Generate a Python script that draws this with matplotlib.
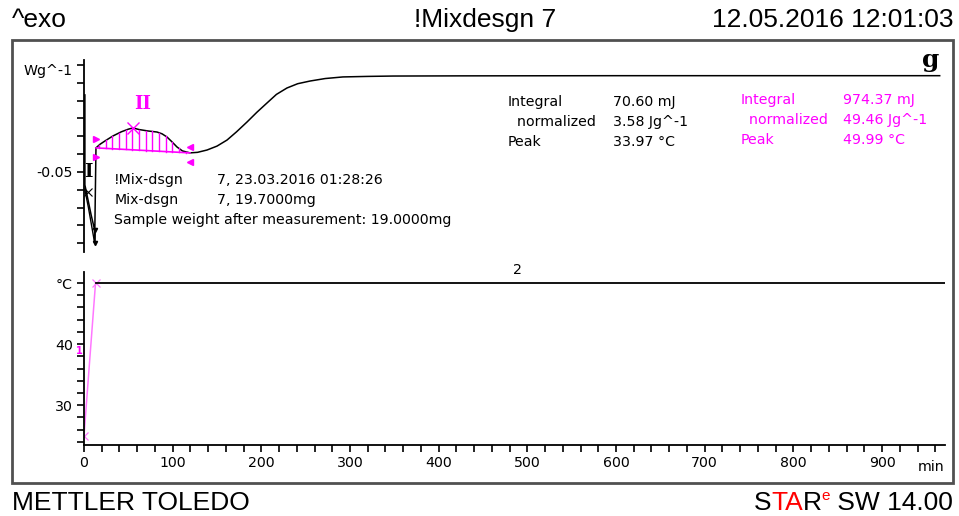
import numpy as np
import matplotlib
matplotlib.use('Agg')
import matplotlib.pyplot as plt
from matplotlib.patches import Rectangle

W, H = 959, 516

# DSC heat flow curve (min, Wg^-1)
dsc_t = [13.5, 18, 24, 32.7, 42, 50, 55.3, 62, 72, 82.3, 88, 93.6, 99, 104.9, 111, 119.5,
         128, 138.7, 150, 161.3, 172, 183.8, 195, 206.4, 217, 228.9, 241, 254.9, 272,
         292, 320, 348.5, 424, 600, 800, 965]
dsc_y = [-0.0365, -0.0345, -0.0325, -0.0298, -0.0275, -0.0260, -0.0253, -0.0262, -0.0270,
         -0.0276, -0.0286, -0.0304, -0.0330, -0.0360, -0.0382, -0.0393,
         -0.0390, -0.0377, -0.0355, -0.0321, -0.0275, -0.0220, -0.0165, -0.0113, -0.0065,
         -0.0029, -0.0005, 0.0010, 0.0024, 0.0033, 0.0036, 0.0038, 0.0039, 0.0040, 0.0040, 0.0040]

# initial transient (segment I)
start_t = [1, 1, 3, 8, 12, 12, 13.5]
start_y = [-0.0068, -0.0573, -0.0620, -0.0740, -0.0825, -0.0898, -0.0365]
start2_t = [1, 5, 12]
start2_y = [-0.0600, -0.0700, -0.0898]

# integration limits and peak (segment II)
int_t = [13.5, 119.5]
int_y = [-0.0365, -0.0393]
peak_t, peak_y = 55.3, -0.0253

# temperature program (min, degC)
temp_t = [0, 13]
temp_y = [25, 50]
iso_t = [13, 971]
iso_y = [50, 50]

res_left = ['Integral', '  normalized', 'Peak']
res1_vals = ['70.60 mJ', '3.58 Jg^-1', '33.97 °C']
res2_vals = ['974.37 mJ', '49.46 Jg^-1', '49.99 °C']

MAG = '#ff00ff'
PINK = '#ff77ff'
FONT = 'DejaVu Sans'
HEAD = 'Liberation Sans'
FS = 10.2


def px_rect(l, t, r, b):
    return [l / W, 1 - b / H, (r - l) / W, (b - t) / H]


fig = plt.figure(figsize=(W / 100, H / 100), dpi=100)

# marco exterior
fig.patches.append(Rectangle((12 / W, 1 - 483 / H), 941 / W, 443 / H, transform=fig.transFigure,
                             fill=False, edgecolor='#505050', linewidth=2))

# encabezado y pie
fig.text(12 / W, 1 - 20 / H, '^exo', fontsize=19, family=HEAD, va='center', ha='left')
fig.text(485 / W, 1 - 20 / H, '!Mixdesgn 7', fontsize=19, family=HEAD, va='center', ha='center')
fig.text(953 / W, 1 - 20 / H, '12.05.2016 12:01:03', fontsize=19, family=HEAD, va='center', ha='right')
fig.text(12 / W, 1 - 503 / H, 'METTLER TOLEDO', fontsize=19, family=HEAD, va='center', ha='left')

# STARe SW 14.00 armado por partes
renderer = fig.canvas.get_renderer()
parts = [('S', 'black', 19, 0), ('TA', 'red', 19, 0), ('R', 'black', 19, 0),
         ('e', 'red', 11, 7), (' SW 14.00', 'black', 19, 0)]
widths = []
for txt, col, fs, dy in parts:
    tt = fig.text(0, 0, txt, fontsize=fs, family=HEAD)
    widths.append(tt.get_window_extent(renderer).width)
    tt.remove()
x = 953 - sum(widths)
for (txt, col, fs, dy), w in zip(parts, widths):
    fig.text(x / W, 1 - (503 - dy) / H, txt, fontsize=fs, family=HEAD, color=col,
             va='center', ha='left')
    x += w

fig.text(931 / W, 1 - 60 / H, 'g', fontsize=18, family='DejaVu Serif', weight='bold',
         va='center', ha='center')

# panel superior: DSC
ax1 = fig.add_axes(px_rect(84, 60, 945, 252))
ax1.set_xlim(0, 971)
ax1.set_ylim(-0.0949, 0.0128)
ax1.plot(dsc_t, dsc_y, color='black', lw=1.1)
ax1.plot(start_t, start_y, color='black', lw=1.1)
ax1.plot(start2_t, start2_y, color='black', lw=1.0)
ax1.plot([12, 12], [-0.0825, -0.0898], ls='none', marker='v', color='black', ms=3)
ax1.plot([4], [-0.0610], marker='x', color='black', ms=6, mew=0.8)

# area integrada
ax1.plot(int_t, int_y, color=MAG, lw=1.2)
base = lambda t: np.interp(t, int_t, int_y)
for ht in np.arange(17, 117, 7.5):
    top = np.interp(ht, dsc_t, dsc_y)
    ax1.plot([ht, ht], [base(ht), top], color=MAG, lw=1.0)
ax1.plot([int_t[0]] * 2, [int_y[0] + 0.005, int_y[0] - 0.005], ls='none', marker='>', color=MAG, ms=4)
ax1.plot([int_t[1]] * 2, [int_y[1] + 0.0035, int_y[1] - 0.005], ls='none', marker='<', color=MAG, ms=4)
ax1.plot([peak_t], [peak_y], marker='x', color=MAG, ms=8, mew=1.0)
ax1.text(66, -0.0120, 'II', color=MAG, fontsize=13, family='DejaVu Serif', weight='bold',
         ha='center', va='center')
ax1.text(5, -0.0500, 'I', color='black', fontsize=13, family='DejaVu Serif', weight='bold',
         ha='center', va='center')

for i, lab in enumerate(res_left):
    yy = -0.0107 - i * 0.0112
    ax1.text(478, yy, lab, fontsize=FS, family=FONT, va='center', ha='left')
    ax1.text(597, yy, res1_vals[i], fontsize=FS, family=FONT, va='center', ha='left')
    yy2 = -0.0096 - i * 0.0112
    ax1.text(740, yy2, lab, fontsize=FS, family=FONT, color=MAG, va='center', ha='left')
    ax1.text(856, yy2, res2_vals[i], fontsize=FS, family=FONT, color=MAG, va='center', ha='left')

info = [('!Mix-dsgn', '7, 23.03.2016 01:28:26'), ('Mix-dsgn', '7, 19.7000mg')]
for i, (a, b) in enumerate(info):
    yy = -0.0545 - i * 0.0112
    ax1.text(34, yy, a, fontsize=FS, family=FONT, va='center', ha='left')
    ax1.text(150, yy, b, fontsize=FS, family=FONT, va='center', ha='left')
ax1.text(34, -0.0769, 'Sample weight after measurement: 19.0000mg', fontsize=FS,
         family=FONT, va='center', ha='left')

for s in ['top', 'right', 'bottom']:
    ax1.spines[s].set_visible(False)
ax1.spines['left'].set_linewidth(1.3)
ax1.set_xticks([])
yt = np.round(np.arange(-0.09, 0.0101, 0.01), 2)
ax1.set_yticks(yt)
ax1.set_yticklabels(['-0.05' if abs(v + 0.05) < 1e-9 else '' for v in yt])
ax1.tick_params(axis='y', length=5, width=1.2, labelsize=FS, pad=3)
for lab in ax1.get_yticklabels():
    lab.set_family(FONT)
# unidad del eje, algo por debajo del ultimo tick
fig.text(73 / W, 1 - 71 / H, 'Wg^-1', fontsize=FS, family=FONT, ha='right', va='center')

# panel inferior: temperatura
ax2 = fig.add_axes(px_rect(84, 272, 945, 445))
ax2.set_xlim(0, 971)
ax2.set_ylim(23.5, 51.8)
ax2.plot(temp_t, temp_y, color=PINK, lw=1.1, marker='x', ms=6, mew=0.9)
ax2.plot(iso_t, iso_y, color='black', lw=1.3)
ax2.text(489, 52.1, '2', fontsize=FS, family=FONT, ha='center', va='center', clip_on=False)
ax2.text(-2, 38.8, '1', fontsize=7, color=MAG, weight='bold', ha='right', va='center')

for s in ['top', 'right']:
    ax2.spines[s].set_visible(False)
ax2.spines['left'].set_linewidth(1.3)
ax2.spines['bottom'].set_linewidth(1.3)
yt2 = np.arange(24, 51, 2)
ax2.set_yticks(yt2)
ax2.set_yticklabels(['°C' if v == 50 else (str(v) if v in (30, 40) else '') for v in yt2])
ax2.set_xticks(np.arange(0, 971, 20), minor=True)
ax2.set_xticks(np.arange(0, 901, 100))
ax2.set_xticklabels([str(v) for v in range(0, 901, 100)])
ax2.tick_params(axis='both', which='both', length=5, width=1.2, labelsize=FS, pad=3)
for lab in ax2.get_yticklabels() + ax2.get_xticklabels():
    lab.set_family(FONT)
ax2.text(955, 23.5 - 3.6, 'min', fontsize=FS, family=FONT, ha='center', va='center',
         clip_on=False)

fig.savefig('out.png', dpi=100)
